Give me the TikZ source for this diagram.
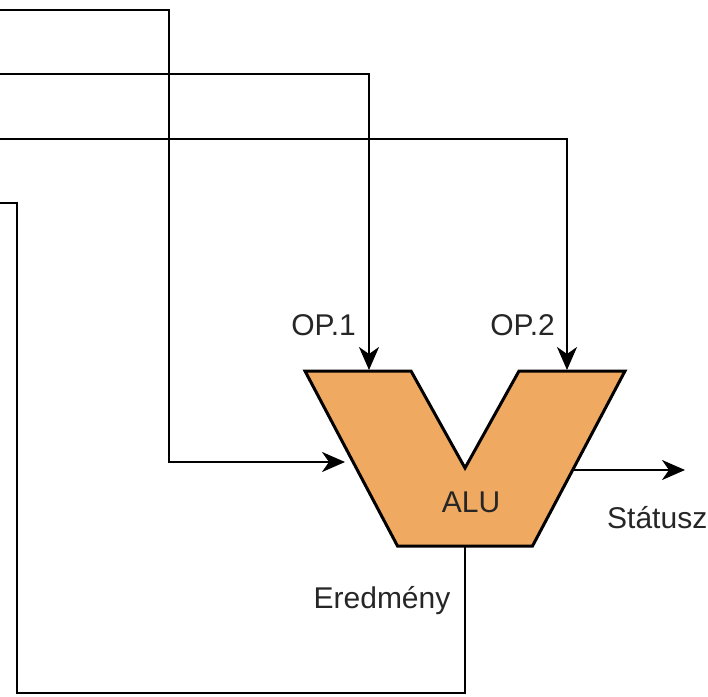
\documentclass[tikz,border=0pt]{standalone}
\usepackage{fontspec}
\setmainfont{Liberation Sans}
\usetikzlibrary{arrows.meta}
\definecolor{alufill}{RGB}{240,169,97}
\tikzset{
  wire/.style={line width=2.3pt, line join=miter},
  arr/.style={wire, -{Stealth[length=23pt, width=20pt, inset=7pt]}},
  lbl/.style={inner sep=0pt, anchor=base, font=\fontsize{30}{36}\selectfont, text=black!85},
}
\begin{document}
\begin{tikzpicture}[x=1pt, y=-1pt]
\useasboundingbox (0,0) rectangle (708,696);
% ALU shape
\coordinate (tl) at (305,371);
\coordinate (ia) at (411,371);
\coordinate (notch) at (465,468);
\coordinate (ib) at (519,371);
\coordinate (tr) at (625,371);
\coordinate (br) at (532.5,546);
\coordinate (bl) at (397.5,546);
\draw[line width=3pt, line join=miter, fill=alufill] (tl) -- (ia) -- (notch) -- (ib) -- (tr) -- (br) -- (bl) -- cycle;
% ports
\coordinate (op1in) at (369,370);
\coordinate (op2in) at (567,370);
\coordinate (ctrlin) at (345,462);
\coordinate (statout) at (572,470);
\coordinate (statend) at (685,470);
\coordinate (resout) at (465,546);
% free ends on the left edge
\coordinate (s1) at (0,10);
\coordinate (s2) at (0,74);
\coordinate (s3) at (0,139);
\coordinate (s4) at (0,203);
% connectors
\draw[arr] (s1) -| (169,462) -- (ctrlin);
\draw[arr] (s2) -| (op1in);
\draw[arr] (s3) -| (op2in);
\draw[arr] (statout) -- (statend);
\draw[wire] (resout) |- (17,693) |- (s4);
% labels
\node[lbl] (lop1) at (323.5,335) {OP.1};
\node[lbl] (lop2) at (522.5,335) {OP.2};
\node[lbl] (lalu) at (471,512) {ALU};
\node[lbl, anchor=base west] (lstat) at (607,528) {Státusz};
\node[lbl] (lres) at (382,608) {Eredmény};
\end{tikzpicture}
\end{document}
